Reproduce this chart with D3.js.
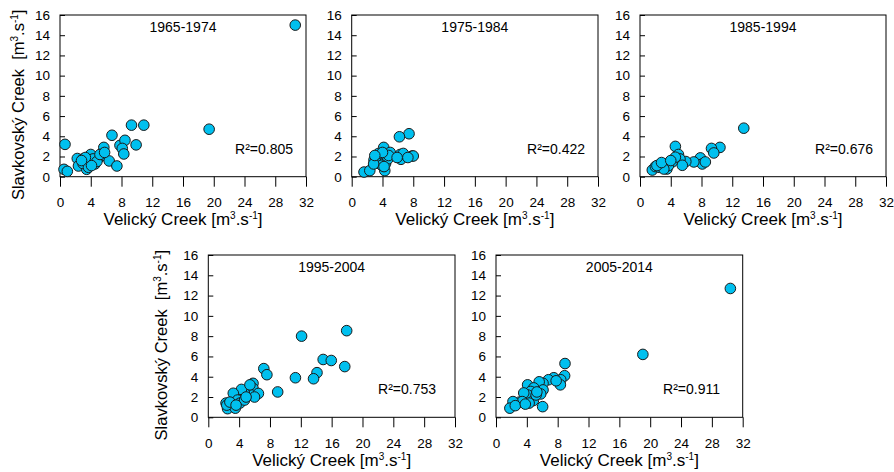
<!DOCTYPE html>
<html>
<head>
<meta charset="utf-8">
<script src="https://cdn.jsdelivr.net/npm/d3@7"></script>
<style>
  html, body { margin: 0; padding: 0; background: #fff; }
  svg { display: block; font-family: "Liberation Sans", Arial, sans-serif; }
</style>
</head>
<body>
<svg id="chart" width="894" height="472"></svg>
<script>
// ---- data ----
const periods = ["1965-1974", "1975-1984", "1985-1994", "1995-2004", "2005-2014"];
const r2Labels = ["R²=0.805", "R²=0.422", "R²=0.676", "R²=0.753", "R²=0.911"];
const xTicks = [0, 4, 8, 12, 16, 20, 24, 28, 32];
const yTicks = [0, 2, 4, 6, 8, 10, 12, 14, 16];

// Velický Creek (x) and Slavkovský Creek (y) per period
const velicky1965 = [0.65, 0.52, 0.95, 2.25, 2.4, 3.47, 3.0, 4.0, 3.9, 4.55, 5.1, 5.7, 5.6, 6.4, 7.4, 6.76, 7.8, 8.45, 8.1, 8.3, 9.9, 9.3, 10.9, 19.4, 30.6, 3.0, 4.3, 4.8, 3.7, 4.1, 5.2, 5.8, 3.3, 2.8];
const slavkov1965 = [3.2, 0.73, 0.53, 1.8, 1.06, 0.73, 1.76, 2.2, 1.66, 1.26, 1.9, 2.9, 2.1, 1.56, 1.06, 4.1, 3.1, 3.6, 2.8, 2.25, 3.15, 5.1, 5.1, 4.7, 15.0, 1.3, 1.76, 1.5, 0.93, 1.1, 2.2, 2.4, 1.9, 1.6];

const velicky1975 = [7.45, 6.2, 7.85, 8.0, 6.4, 6.3, 6.7, 1.6, 2.35, 4.16, 3.33, 2.9, 3.76, 4.4, 4.3, 5.0, 4.7, 3.2, 3.9, 4.8, 3.5, 4.0, 2.85, 7.3, 5.9, 3.0, 4.2];
const slavkov1975 = [4.25, 3.95, 2.05, 2.05, 1.72, 2.2, 2.3, 0.46, 0.6, 2.9, 1.33, 1.66, 1.9, 1.3, 0.6, 2.4, 1.76, 2.0, 1.13, 2.1, 2.3, 2.4, 1.26, 1.9, 1.9, 2.1, 1.0];

const velicky1985 = [13.5, 10.4, 9.3, 9.6, 7.85, 8.1, 8.5, 7.0, 4.6, 5.0, 5.96, 5.2, 5.5, 4.2, 3.0, 1.6, 2.0, 2.5, 3.3, 3.5, 3.7, 3.1, 2.2, 4.6, 2.8, 4.0];
const slavkov1985 = [4.8, 2.9, 2.8, 2.35, 1.86, 1.26, 1.46, 1.46, 3.0, 2.2, 1.5, 1.76, 1.13, 1.46, 1.16, 0.66, 1.0, 0.93, 1.26, 0.76, 1.1, 0.76, 1.1, 1.93, 1.4, 1.6];

const velicky1995 = [17.95, 12.1, 14.9, 15.95, 17.7, 14.1, 13.65, 11.3, 9.0, 7.2, 7.6, 5.8, 5.8, 5.6, 6.5, 6.0, 4.67, 4.3, 3.24, 3.8, 3.0, 2.3, 2.5, 3.5, 4.1, 4.7, 4.9, 2.4, 2.8, 3.6, 5.4];
const slavkov1995 = [8.54, 8.0, 5.7, 5.6, 5.0, 4.4, 3.8, 3.9, 2.5, 4.8, 4.2, 3.35, 2.85, 2.2, 2.35, 2.0, 2.4, 2.75, 2.37, 1.7, 1.15, 1.4, 0.85, 0.9, 1.4, 1.7, 2.0, 1.2, 1.5, 1.2, 3.2];

const velicky2005 = [30.4, 19.05, 8.95, 8.9, 8.4, 8.35, 7.5, 6.8, 7.8, 6.1, 5.6, 6.1, 5.8, 6.05, 4.1, 4.9, 4.5, 4.1, 3.6, 4.85, 4.3, 3.05, 3.4, 2.2, 1.8, 2.5, 3.8, 5.2, 5.3];
const slavkov2005 = [12.7, 6.2, 5.3, 4.1, 3.7, 3.2, 3.9, 3.7, 3.6, 3.35, 3.5, 2.7, 2.3, 1.05, 3.2, 2.9, 2.55, 2.2, 2.4, 1.65, 1.4, 1.5, 1.55, 1.55, 0.9, 1.15, 1.3, 2.2, 2.5];

const seriesX = [velicky1965, velicky1975, velicky1985, velicky1995, velicky2005];
const seriesY = [slavkov1965, slavkov1975, slavkov1985, slavkov1995, slavkov2005];

// ---- layout ----
const panels = [
  { left: 60,    right: 306,   top: 15,  bottom: 176.7, r2Right: 13, yLabel: true, yLabelX: 24.4 },
  { left: 351.7, right: 598,   top: 15,  bottom: 176.7, r2Right: 13, yLabel: false },
  { left: 640,   right: 886,   top: 15,  bottom: 176.7, r2Right: 13, yLabel: false },
  { left: 208.3, right: 455,   top: 255, bottom: 417.3, r2Right: 19, yLabel: true, yLabelX: 167.4 },
  { left: 496,   right: 742.7, top: 255, bottom: 417.3, r2Right: 22.7, yLabel: false }
];

const svg = d3.select("#chart");
svg.append("rect").attr("width", 894).attr("height", 472).attr("fill", "#fff");

function unitLabel(sel, prefix) {
  sel.append("tspan").text(prefix + "[m");
  sel.append("tspan").attr("dy", -6).attr("font-size", 10).text("3");
  sel.append("tspan").attr("dy", 6).text(".s");
  sel.append("tspan").attr("dy", -6).attr("font-size", 10).text("-1");
  sel.append("tspan").attr("dy", 6).text("]");
}

panels.forEach((p, i) => {
  const g = svg.append("g");
  const x = d3.scaleLinear().domain([0, 32]).range([p.left, p.right]);
  const y = d3.scaleLinear().domain([0, 16]).range([p.bottom, p.top]);

  // x axis
  const xa = g.append("g")
    .attr("transform", `translate(0,${p.bottom})`)
    .call(d3.axisBottom(x).tickValues(xTicks).tickSize(10).tickPadding(11).tickFormat(d3.format("d")));
  xa.select(".domain").remove();
  xa.selectAll("line").attr("stroke", "#000").attr("stroke-width", 1);
  xa.selectAll("text").attr("font-size", 13.5).attr("fill", "#000")
    .attr("font-family", "Liberation Sans, Arial, sans-serif");

  // y axis
  const ya = g.append("g")
    .attr("transform", `translate(${p.left},0)`)
    .call(d3.axisLeft(y).tickValues(yTicks).tickSizeInner(-5).tickSizeOuter(0).tickPadding(10).tickFormat(d3.format("d")));
  ya.select(".domain").remove();
  ya.selectAll("line").attr("stroke", "#000").attr("stroke-width", 1);
  ya.selectAll("text").attr("font-size", 13.5).attr("fill", "#000")
    .attr("font-family", "Liberation Sans, Arial, sans-serif");

  // box
  g.append("rect")
    .attr("x", p.left).attr("y", p.top)
    .attr("width", p.right - p.left).attr("height", p.bottom - p.top)
    .attr("fill", "none").attr("stroke", "#000").attr("stroke-width", 1);

  // points
  const pts = seriesX[i].map((vx, k) => ({ x: vx, y: seriesY[i][k] }));
  g.append("g").selectAll("circle").data(pts).join("circle")
    .attr("cx", d => x(d.x)).attr("cy", d => y(d.y)).attr("r", 5.3)
    .attr("fill", "#00c0ef").attr("stroke", "#1a1a1a").attr("stroke-width", 1);

  // title
  g.append("text")
    .attr("x", (p.left + p.right) / 2).attr("y", p.top + 16.7)
    .attr("text-anchor", "middle").attr("font-size", 14).attr("fill", "#000")
    .text(periods[i]);

  // R2
  g.append("text")
    .attr("x", p.right - p.r2Right).attr("y", p.bottom - 23)
    .attr("text-anchor", "end").attr("font-size", 14).attr("fill", "#000")
    .text(r2Labels[i]);

  // x label
  const xl = g.append("text")
    .attr("x", (p.left + p.right) / 2).attr("y", p.bottom + 48.5)
    .attr("text-anchor", "middle").attr("font-size", 17).attr("fill", "#000");
  unitLabel(xl, "Velický Creek ");

  if (p.yLabel) {
    const yl = g.append("text")
      .attr("transform", `translate(${p.yLabelX},${(p.top + p.bottom) / 2 + 9}) rotate(-90)`)
      .attr("text-anchor", "middle").attr("font-size", 16.5).attr("fill", "#000")
      .attr("xml:space", "preserve").style("white-space", "pre");
    unitLabel(yl, "Slavkovský Creek  ");
  }
});
</script>
</body>
</html>
